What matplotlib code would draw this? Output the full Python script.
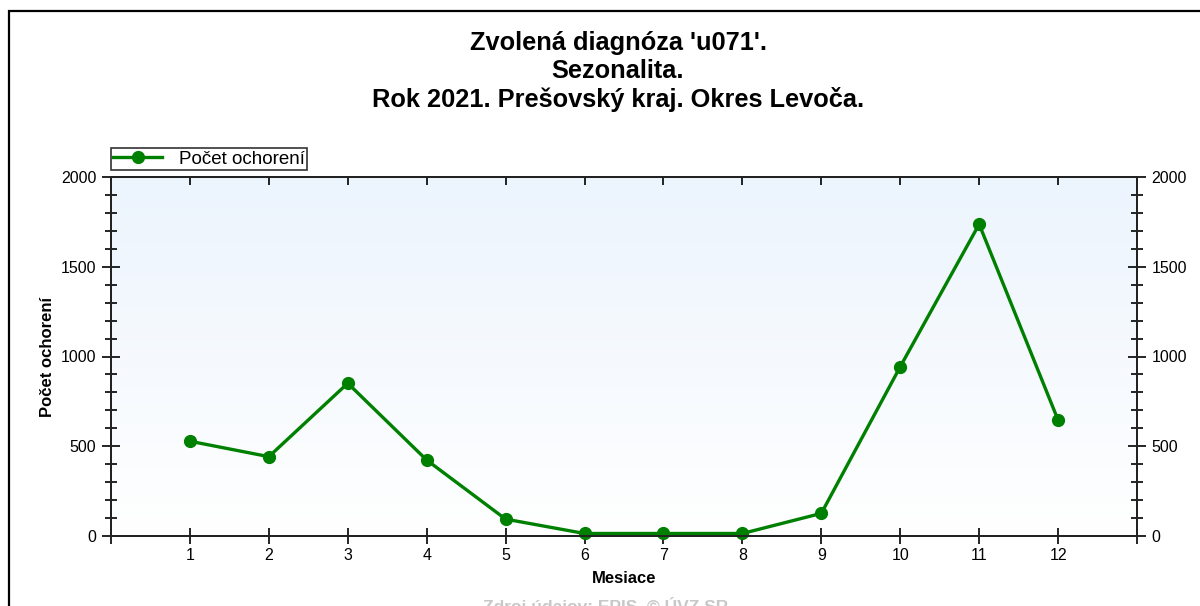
import matplotlib
matplotlib.use("Agg")
import matplotlib.pyplot as plt
import numpy as np
from matplotlib.patches import Rectangle

plt.rcParams['font.family'] = ['Liberation Sans', 'DejaVu Sans']

# data
mesiace = [1, 2, 3, 4, 5, 6, 7, 8, 9, 10, 11, 12]
pocet = [528, 442, 851, 423, 94, 14, 14, 14, 126, 943, 1737, 646]

title = "Zvolená diagnóza 'u071'.\nSezonalita.\nRok 2021. Prešovský kraj. Okres Levoča."

W, H = 1200, 606
fig = plt.figure(figsize=(12, 6.06), dpi=100)
fig.patch.set_facecolor('white')

# outer frame (cut off at the right and bottom)
fig.patches.append(Rectangle((9 / W, -0.2), 1.2, 1.2 - 11 / H,
                             transform=fig.transFigure, fill=False,
                             edgecolor='black', linewidth=1.6, zorder=0))

ax = fig.add_axes([111 / W, 1 - 536 / H, 1026 / W, 359 / H])

# gradient background
grad = np.linspace(0, 1, 256).reshape(-1, 1)
top = np.array([0.925, 0.957, 0.992])
bot = np.array([1.0, 1.0, 1.0])
img = (bot + (top - bot) * grad).reshape(256, 1, 3)
ax.imshow(img, extent=[0, 13, 0, 2000], origin='lower', aspect='auto', zorder=0)

ax.plot(mesiace, pocet, color='#008000', linewidth=2.4, marker='o',
        markersize=8.5, label='Počet ochorení', zorder=3, clip_on=False)

ax.set_xlim(0, 13)
ax.set_ylim(0, 2000)

ax.set_xticks(range(0, 14))
ax.set_xticklabels([''] + [str(m) for m in mesiace] + [''])
ax.set_yticks([0, 500, 1000, 1500, 2000])
ax.set_yticks(np.arange(0, 2001, 100), minor=True)

ax.tick_params(axis='x', which='major', direction='inout', length=11, width=1.2,
               labelsize=11.5, pad=3, top=False)
ax.tick_params(axis='y', which='major', direction='inout', length=13, width=1.2,
               labelsize=11.5, pad=4, right=True, labelright=True)
ax.tick_params(axis='y', which='minor', direction='inout', length=8, width=1.2,
               right=True)
ax.tick_params(axis='x', which='minor', bottom=False, top=False)

# top axis: short inward ticks only
axt = ax.twiny()
axt.set_xlim(0, 13)
axt.set_xticks(mesiace)
axt.tick_params(axis='x', direction='in', length=6, width=1.2, labeltop=False)

for a in (ax, axt):
    for s in a.spines.values():
        s.set_linewidth(1.4)
        s.set_color('#222222')

ax.set_xlabel('Mesiace', fontsize=12, fontweight='bold', labelpad=6)
ax.set_ylabel('Počet ochorení', fontsize=12, fontweight='bold')
ax.yaxis.set_label_coords(-0.055, 0.5)

leg = ax.legend(loc='lower left', bbox_to_anchor=(0.0, 1.02), frameon=True,
                fancybox=False, fontsize=13.5, borderpad=0.12, handlelength=2.6,
                handletextpad=0.9, borderaxespad=0)
leg.get_frame().set_edgecolor('black')
leg.get_frame().set_linewidth(1.2)

fig.text(618 / W, 1 - 31 / H, title, ha='center', va='top', fontsize=18.3,
         fontweight='bold', linespacing=1.2)

fig.text(606 / W, 1 - 597 / H, 'Zdroj údajov: EPIS, © ÚVZ SR', ha='center',
         va='top', fontsize=12.5, fontweight='bold', color='#c8c8c8')

fig.savefig('out.png', dpi=100)
